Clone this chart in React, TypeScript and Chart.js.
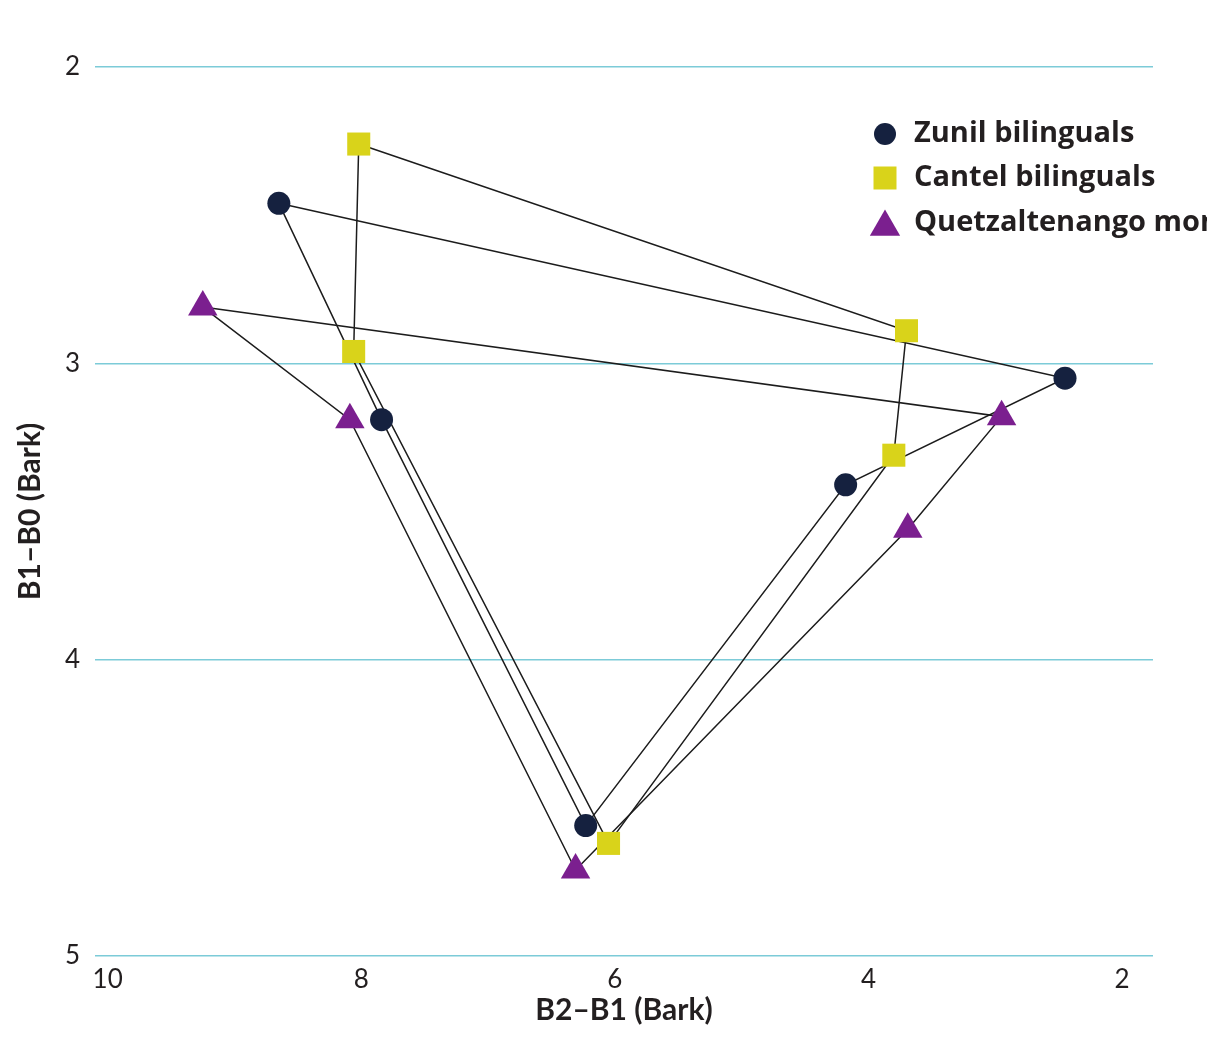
import React, { useEffect, useRef } from 'react';
import { Chart, registerables } from 'chart.js';

Chart.register(...registerables);

// Series: vowel order i, e, a, o, u (closed polygon)
const seriesNames = ['Zunil bilinguals', 'Cantel bilinguals', 'Quetzaltenango monolinguals'];
const vowels = ['i', 'e', 'a', 'o', 'u'];
const zunilX = [8.65, 7.84, 6.23, 4.18, 2.45];
const zunilY = [2.46, 3.19, 4.56, 3.41, 3.05];
const cantelX = [8.02, 8.06, 6.05, 3.8, 3.7];
const cantelY = [2.26, 2.96, 4.62, 3.31, 2.89];
const quetzX = [9.25, 8.09, 6.31, 3.69, 2.95];
const quetzY = [2.81, 3.19, 4.71, 3.56, 3.18];
const xTicks = [10, 8, 6, 4, 2];
const yTicks = [2, 3, 4, 5];
const xTitle = 'B2–B1 (Bark)';
const yTitle = 'B1–B0 (Bark)';

const colors = ['#15213f', '#d9d31a', '#7b1f8f'];
const styles = ['circle', 'rect', 'triangle'];
const radii = [11.5, 16.3, 17];
const FONT = 'Lato, "Noto Sans", sans-serif';
const LEGEND_FONT = '"Open Sans", Lato, sans-serif';

function pts(xs: number[], ys: number[]) {
  return xs.map((x, i) => ({ x, y: ys[i] }));
}

export default function App() {
  const ref = useRef<HTMLCanvasElement | null>(null);
  useEffect(() => {
    if (!ref.current) return;
    const all = [pts(zunilX, zunilY), pts(cantelX, cantelY), pts(quetzX, quetzY)];
    const lineSets = all.map((d, i) => ({
      label: '_line' + i,
      data: [...d, d[0]],
      showLine: true,
      borderColor: '#1c1c1c',
      borderWidth: 1.5,
      pointRadius: 0,
      pointHoverRadius: 0,
      order: 5,
    }));
    const pointSets = all.map((d, i) => ({
      label: seriesNames[i],
      data: d,
      showLine: false,
      pointStyle: styles[i],
      pointRadius: radii[i],
      pointHoverRadius: radii[i],
      backgroundColor: colors[i],
      borderColor: colors[i],
      pointBorderWidth: 0,
      order: 1,
    }));

    const legendPlugin = {
      id: 'customLegend',
      afterDraw(chart: any) {
        const ctx = chart.ctx;
        ctx.save();
        const rows = [134, 178, 223];
        const mx = 885;
        rows.forEach((ry, i) => {
          ctx.fillStyle = colors[i];
          ctx.beginPath();
          if (styles[i] === 'circle') {
            ctx.arc(mx, ry, 11, 0, Math.PI * 2);
          } else if (styles[i] === 'rect') {
            ctx.rect(mx - 11.5, ry - 11.5, 23, 23);
          } else {
            const r = 17.5;
            const cy = ry + 4;
            ctx.moveTo(mx, cy - r);
            ctx.lineTo(mx + r * Math.sin((2 * Math.PI) / 3), cy - r * Math.cos((2 * Math.PI) / 3));
            ctx.lineTo(mx - r * Math.sin((2 * Math.PI) / 3), cy - r * Math.cos((2 * Math.PI) / 3));
            ctx.closePath();
          }
          ctx.fill();
          ctx.fillStyle = '#231f20';
          ctx.font = 'bold 29px ' + LEGEND_FONT;
          ctx.textBaseline = 'middle';
          ctx.textAlign = 'left';
          ctx.fillText(seriesNames[i], 914, ry);
        });
        ctx.restore();
      },
    };

    const chart = new Chart(ref.current, {
      type: 'scatter',
      data: { datasets: [...pointSets, ...lineSets] as any },
      options: {
        animation: false,
        responsive: true,
        maintainAspectRatio: false,
        layout: { padding: { top: 67, right: 54, bottom: 0, left: 0 } },
        plugins: {
          legend: { display: false },
          tooltip: { enabled: false },
        },
        scales: {
          x: {
            type: 'linear',
            reverse: true,
            min: 1.756,
            max: 10.1,
            afterBuildTicks: (s: any) => {
              s.ticks = xTicks.map((v) => ({ value: v }));
            },
            afterFit: (s: any) => {
              s.height = 84;
            },
            grid: { display: false, drawTicks: false },
            border: { display: false },
            ticks: {
              padding: 8,
              color: '#231f20',
              font: { family: FONT, size: 26 },
              maxRotation: 0,
              autoSkip: false,
            },
            title: {
              display: true,
              text: xTitle,
              color: '#231f20',
              font: { family: FONT, size: 30, weight: 'bold' },
              padding: { top: 0, bottom: 12 },
            },
          },
          y: {
            type: 'linear',
            reverse: true,
            min: 2,
            max: 5,
            afterBuildTicks: (s: any) => {
              s.ticks = yTicks.map((v) => ({ value: v }));
            },
            afterFit: (s: any) => {
              s.width = 95;
            },
            grid: { color: '#7ccbd8', lineWidth: 1.5, drawTicks: false },
            border: { display: false },
            ticks: {
              padding: 15,
              color: '#231f20',
              font: { family: FONT, size: 26 },
            },
            title: {
              display: true,
              text: yTitle,
              color: '#231f20',
              font: { family: FONT, size: 30, weight: 'bold' },
              padding: { top: 12, bottom: 0 },
            },
          },
        },
      },
      plugins: [legendPlugin],
    });
    return () => chart.destroy();
  }, []);

  return (
    <div style={{ position: 'absolute', left: 0, top: 0, width: 1207, height: 1040, background: '#fff' }}>
      <canvas ref={ref} />
    </div>
  );
}
